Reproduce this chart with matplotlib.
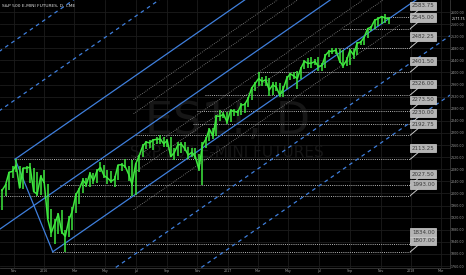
import matplotlib
matplotlib.use('Agg')
import matplotlib.pyplot as plt
import matplotlib.dates as mdates
import matplotlib.transforms as mtrans
import pandas as pd

# weekly ES1! bars (Fri of each week, Oct 2015 .. Nov 2017)
week_high = [2016, 2030, 2072, 2090, 2113, 2092, 2085, 2092, 2100, 2085, 2072, 2060, 2078,
             2030, 1950, 1915, 1935, 1945, 1880, 1925, 1955, 2000, 2018, 2050, 2052, 2070,
             2068, 2080, 2105, 2095, 2078, 2075, 2058, 2095, 2100, 2115, 2090, 2110, 2100,
             2126, 2162, 2172, 2176, 2180, 2185, 2192, 2186, 2180, 2185, 2150, 2170, 2170,
             2170, 2155, 2150, 2150, 2130, 2170, 2185, 2215, 2215, 2258, 2275, 2270, 2268,
             2280, 2278, 2275, 2300, 2298, 2318, 2352, 2368, 2401, 2385, 2390, 2382, 2370,
             2370, 2365, 2355, 2390, 2398, 2402, 2405, 2418, 2440, 2448, 2450, 2445, 2450,
             2432, 2460, 2475, 2482, 2482, 2478, 2475, 2450, 2478, 2478, 2500, 2505, 2518,
             2548, 2555, 2576, 2582, 2588, 2593, 2584]
week_low = [1945, 1990, 2010, 2050, 2070, 2018, 2015, 2068, 2035, 2005, 1990, 1995, 2035,
            1915, 1855, 1834, 1865, 1865, 1807, 1855, 1880, 1935, 1965, 2000, 2020, 2020,
            2030, 2035, 2070, 2050, 2030, 2035, 2020, 2045, 2075, 2085, 2040, 1993, 1995,
            2070, 2120, 2148, 2150, 2145, 2165, 2165, 2155, 2155, 2120, 2110, 2125, 2135,
            2140, 2115, 2120, 2115, 2075, 2027.5, 2150, 2175, 2180, 2190, 2240, 2250, 2230,
            2235, 2255, 2255, 2260, 2265, 2285, 2310, 2340, 2355, 2355, 2355, 2322, 2325,
            2340, 2320, 2320, 2345, 2375, 2380, 2345, 2380, 2410, 2415, 2415, 2425, 2405,
            2405, 2415, 2450, 2460, 2460, 2431, 2415, 2420, 2425, 2445, 2458, 2490, 2490,
            2515, 2538, 2545, 2555, 2560, 2565, 2560]
week_close = [2010, 2028, 2070, 2073, 2094, 2018, 2084, 2084, 2087, 2006, 1998, 2056, 2036,
              1915, 1870, 1900, 1932, 1872, 1858, 1912, 1942, 1995, 2016, 2044, 2030, 2066,
              2042, 2074, 2086, 2059, 2051, 2040, 2047, 2094, 2095, 2090, 2064, 2030, 2097,
              2124, 2156, 2170, 2167, 2177, 2179, 2180, 2164, 2175, 2122, 2135, 2160, 2163,
              2148, 2127, 2136, 2121, 2080, 2160, 2180, 2212, 2190, 2256, 2255, 2262, 2236,
              2274, 2272, 2268, 2292, 2294, 2314, 2348, 2364, 2380, 2370, 2376, 2342, 2359,
              2352, 2325, 2346, 2381, 2396, 2388, 2380, 2414, 2437, 2430, 2431, 2436, 2420,
              2423, 2457, 2470, 2470, 2474, 2438, 2422, 2440, 2474, 2458, 2497, 2500, 2516,
              2545, 2550, 2573, 2578, 2585, 2580, 2577.75]
weeks = pd.date_range('2015-10-09', periods=len(week_close), freq='W-FRI')
last_price = 2577.75

# horizontal levels drawn on the chart, with the date each one starts
level_vals = [2583.75, 2545.00, 2482.25, 2401.50, 2326.00, 2273.50, 2230.00,
              2192.75, 2113.25, 2027.50, 1993.00, 1834.00, 1807.00]
level_start = ['2017-11-07', '2017-08-17', '2017-08-08', '2017-03-01', '2016-11-17',
               '2016-11-01', '2016-10-24', '2016-07-01', '2015-11-04', '2016-02-02',
               '2015-09-01', '2016-02-06', '2016-01-17']
level_end = '2017-12-30'

# pitchfork anchors (handle, upper pivot, lower pivot)
pf_dates = ['2015-08-24', '2015-11-04', '2016-01-18']
pf_prices = [1834.0, 2113.25, 1807.0]
pf_solid = [-1, 1]
pf_dashed = [-3, -2, 2, 3]
pf_grey = [-0.618, -0.382, 0.382, 0.618, 1.236]
grey_start, grey_end = '2016-06-27', '2017-12-10'

bg = '#000000'
blue = '#3f7fdc'
green = '#3ee83e'

fig = plt.figure(figsize=(4.66, 2.75), dpi=100, facecolor=bg)
ax = fig.add_axes([0, 7 / 275, 450 / 466, 268 / 275], facecolor=bg)

x_left = mdates.date2num(pd.Timestamp('2015-10-05'))
x_right = mdates.date2num(pd.Timestamp('2018-03-19'))
ax.set_xlim(x_left, x_right)
ax.set_ylim(1753.4, 2639.7)

# grid
ax.xaxis.set_major_locator(mdates.MonthLocator(bymonth=[1, 3, 5, 7, 9, 11]))
ax.xaxis.set_major_formatter(mdates.ConciseDateFormatter(ax.xaxis.get_major_locator(),
                                                         formats=['%Y', '%b', '%d', '%H:%M', '%H:%M', '%S.%f']))
ax.yaxis.set_major_locator(plt.MultipleLocator(40))
ax.yaxis.set_major_formatter(plt.FormatStrFormatter('%.2f'))
ax.yaxis.tick_right()
ax.grid(True, color='#1c1c1c', lw=0.6)
ax.set_axisbelow(True)
ax.tick_params(colors='#9a9a9a', labelsize=2.3, length=0, pad=1)
ax.tick_params(axis='y', pad=0.8)
for s in ['top', 'left']:
    ax.spines[s].set_visible(False)
for s in ['right', 'bottom']:
    ax.spines[s].set_color('#3a3a3a')
    ax.spines[s].set_linewidth(0.6)

# watermark
ax.text(0.505, 0.545, 'ES1!, D', transform=ax.transAxes, ha='center', va='center',
        fontsize=32, color='#161616', zorder=0)
ax.text(0.505, 0.43, 'S&P 500 E-MINI FUTURES', transform=ax.transAxes, ha='center',
        va='center', fontsize=11, color='#161616', zorder=0)
ax.text(0.004, 0.979, 'S&P 500 E-MINI FUTURES, D, CME', transform=ax.transAxes,
        ha='left', va='center', fontsize=3.2, color='#dddddd')

# pitchfork
px = [mdates.date2num(pd.Timestamp(d)) for d in pf_dates]
mx = (px[1] + px[2]) / 2
my = (pf_prices[1] + pf_prices[2]) / 2
slope = (my - pf_prices[0]) / (mx - px[0])


def fork_line(level, x0=None, x1=x_right, **kw):
    qx = mx + level * (px[2] - mx)
    qy = my + level * (pf_prices[2] - my)
    if x0 is None:
        x0 = qx
    ax.plot([x0, x1], [qy + slope * (x0 - qx), qy + slope * (x1 - qx)], **kw)


fork_line(0, x0=px[0], color=blue, lw=0.9, zorder=3)
for lv in pf_solid:
    fork_line(lv, color=blue, lw=0.9, zorder=3)
for lv in pf_dashed:
    fork_line(lv, color=blue, lw=0.9, ls=(0, (3, 3)), zorder=3)
ax.plot(px[1:], pf_prices[1:], color=blue, lw=0.9, zorder=3)
g0 = mdates.date2num(pd.Timestamp(grey_start))
g1 = mdates.date2num(pd.Timestamp(grey_end))
for lv in pf_grey:
    fork_line(lv, x0=g0, x1=g1, color='#8a8a8a', lw=0.6, ls=(0, (1, 1.5)), zorder=2)

# price
ax.vlines(weeks, week_low, week_high, color=green, lw=1.1, zorder=4)
ax.plot(weeks, week_close, color=green, lw=1.1, zorder=4)

# horizontal levels with callout labels
end_num = mdates.date2num(pd.Timestamp(level_end))
for lv, st in zip(level_vals, level_start):
    ax.plot([mdates.date2num(pd.Timestamp(st)), end_num], [lv, lv], color='#b5b5b5',
            lw=0.7, ls=(0, (1, 1.2)), zorder=2)
    ax.annotate('%.2f' % lv, xy=(end_num, lv), xytext=(13, 11), textcoords='offset pixels',
                ha='center', va='center', fontsize=4, color='#3a3a3a', annotation_clip=False,
                bbox=dict(boxstyle='square,pad=0.3', fc='#b4b4b4', ec='#d0d0d0', lw=0.5),
                arrowprops=dict(arrowstyle='-', color='#c8c8c8', lw=0.7, shrinkA=0, shrinkB=0),
                zorder=6)

# last price tag on the axis
tr = mtrans.blended_transform_factory(ax.transAxes, ax.transData)
ax.text(1.003, last_price, '%.2f' % last_price, transform=tr, ha='left', va='center',
        fontsize=2.3, color='#ffffff', bbox=dict(boxstyle='square,pad=0.2', fc='#000000', ec='none'),
        clip_on=False, zorder=7)

fig.savefig('out.png', dpi=100, facecolor=bg)
